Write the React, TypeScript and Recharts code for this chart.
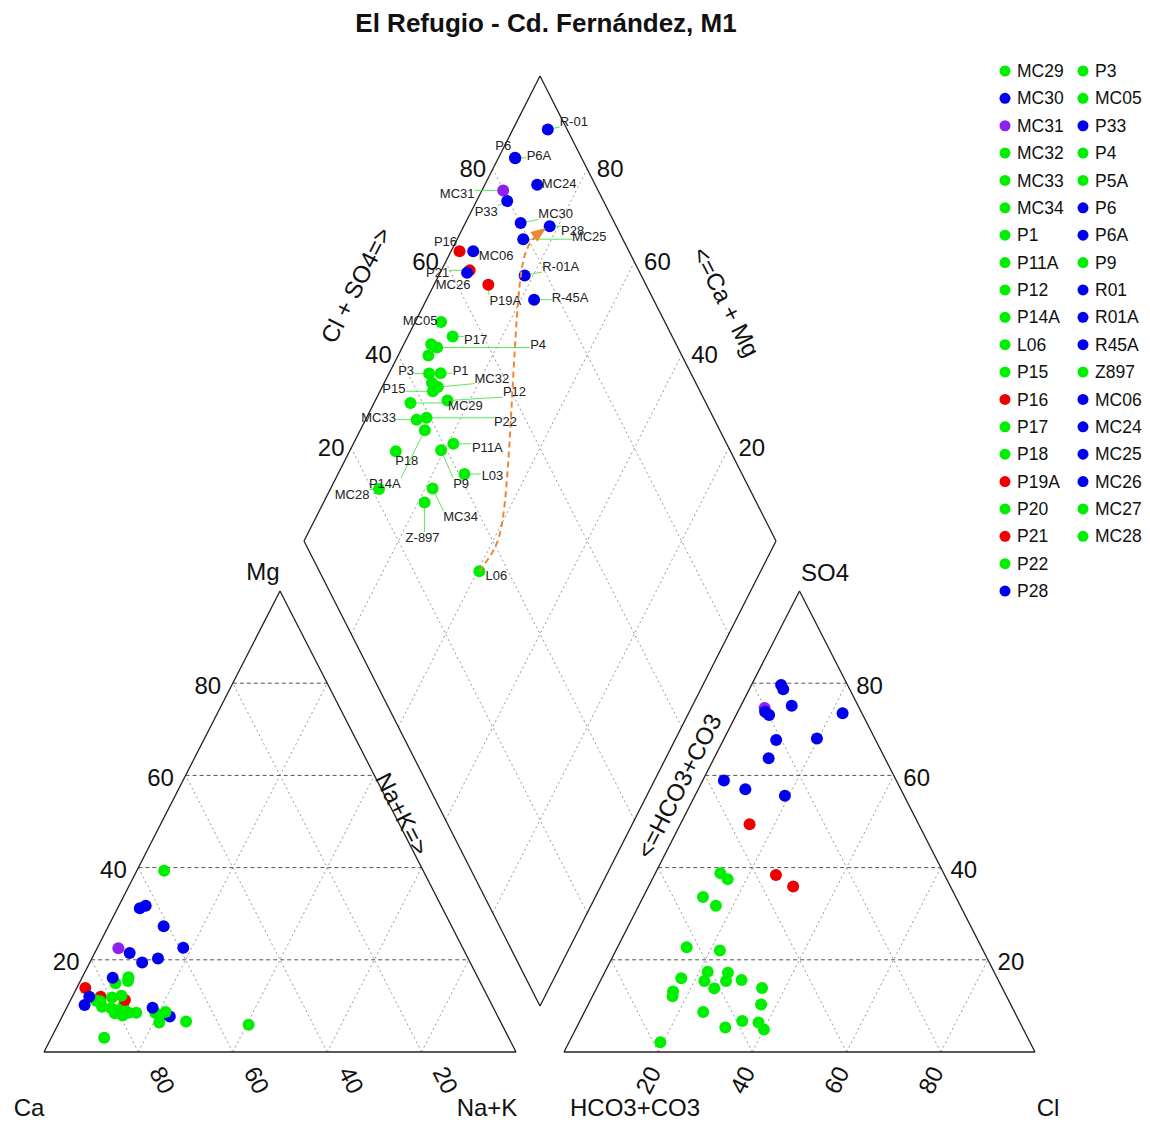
import React from 'react';
import {
  ScatterChart,
  Scatter,
  XAxis,
  YAxis,
  ReferenceLine,
  Customized,
} from 'recharts';

// samples in legend order (L03 appears only in the diamond)
const sampleIds = [
  'MC29', 'MC30', 'MC31', 'MC32', 'MC33', 'MC34', 'P1', 'P11A', 'P12', 'P14A',
  'L06', 'P15', 'P16', 'P17', 'P18', 'P19A', 'P20', 'P21', 'P22', 'P28',
  'P3', 'MC05', 'P33', 'P4', 'P5A', 'P6', 'P6A', 'P9', 'R01', 'R01A',
  'R45A', 'Z897', 'MC06', 'MC24', 'MC25', 'MC26', 'MC27', 'MC28', 'L03',
];
const legendNames = sampleIds.filter((id) => id !== 'L03');
const diamondTags = [
  'MC29', 'MC30', 'MC31', 'MC32', 'MC33', 'MC34', 'P1', 'P11A', 'P12', 'P14A',
  'L06', 'P15', 'P16', 'P17', 'P18', 'P19A', '', 'P21', 'P22', 'P28',
  'P3', 'MC05', 'P33', 'P4', '', 'P6', 'P6A', 'P9', 'R-01', 'R-01A',
  'R-45A', 'Z-897', 'MC06', 'MC24', 'MC25', 'MC26', '', 'MC28', 'L03',
];
const groups = [
  'g', 'b', 'p', 'g', 'g', 'g', 'g', 'g', 'g', 'g',
  'g', 'g', 'r', 'g', 'g', 'r', 'g', 'r', 'g', 'b',
  'g', 'g', 'b', 'g', 'g', 'b', 'b', 'g', 'b', 'b',
  'b', 'g', 'b', 'b', 'b', 'b', 'g', 'g', 'g',
];

// cations, % meq
const mgPct = [
  14.9, 27.3, 22.5, 10.0, 8.4, 8.2, 9.0, 6.4, 8.5, 8.5,
  5.9, 3.1, 13.9, 9.5, 16.2, 11.3, 39.3, 12.0, 7.9, 22.6,
  11.8, 11.1, 16.1, 9.8, 11.0, 12.0, 10.2, 8.5, 21.5, 9.6,
  7.7, 8.7, 31.2, 19.4, 20.3, 31.7, 15.4, 12.2, 6.6,
];
const nakPct = [
  7.7, 11.7, 4.5, 11.8, 10.8, 21.6, 10.9, 21.2, 15.3, 13.7,
  40.4, 11.2, 1.8, 9.5, 9.8, 11.5, 5.8, 6.0, 12.7, 18.2,
  8.5, 5.5, 6.5, 7.4, 6.4, 3.6, 3.5, 19.3, 7.4, 18.2,
  22.8, 21.4, 4.7, 11.1, 14.0, 5.7, 10.1, 10.3, 26.8,
];
// anions, % meq
const so4Pct = [
  22.7, 73.1, 74.6, 4.9, 5.3, 16.0, 10.3, 15.4, 15.6, 15.4,
  8.7, 17.2, 49.4, 37.5, 12.1, 35.9, 31.7, 38.4, 17.4, 75.1,
  6.4, 38.8, 73.8, 13.9, 33.6, 79.6, 78.7, 13.8, 73.5, 63.7,
  55.6, 13.1, 57.0, 68.0, 67.7, 58.9, 22.0, 2.1, 6.7,
];
const clPct = [
  14.7, 7.0, 5.3, 40.0, 31.6, 16.9, 36.7, 26.7, 29.9, 22.1,
  25.2, 26.2, 14.7, 16.0, 17.0, 30.7, 16.4, 25.8, 21.8, 10.8,
  38.1, 13.8, 5.8, 35.1, 12.7, 6.3, 7.2, 25.0, 22.4, 11.6,
  19.1, 16.6, 10.0, 19.7, 11.2, 4.5, 22.1, 19.4, 34.5,
];

// evolution path L06 -> P28 in the diamond (Cl+SO4, Ca+Mg)
const arrowSO4Cl = [33.9, 38.8, 42.8, 50.5, 59.2, 70.3, 76.4, 80.3, 84.9];
const arrowCaMg = [59.6, 58.7, 58.9, 64.1, 71.1, 80.0, 84.0, 84.5, 82.4];

const tickValues = [20, 40, 60, 80];

// ---- layout ----
const colors: Record<string, string> = {
  g: '#00EE00',
  b: '#0000EE',
  p: '#9020F0',
  r: '#EE0000',
};
const FONT = '"Liberation Sans", Arial, sans-serif';

type Pt = { x: number; y: number };
type Tri = { a: Pt; b: Pt; c: Pt };
const CAT: Tri = { a: { x: 44, y: 1052 }, b: { x: 516, y: 1052 }, c: { x: 280, y: 591 } };
const AN: Tri = { a: { x: 564, y: 1052 }, b: { x: 1035, y: 1052 }, c: { x: 799.5, y: 591 } };
const DB: Pt = { x: 540, y: 1006 };
const DR: Pt = { x: 776, y: 541 };
const DL: Pt = { x: 304, y: 541 };

const tern = (t: Tri, p1: number, p2: number): Pt => ({
  x: t.a.x + (p1 / 100) * (t.b.x - t.a.x) + (p2 / 100) * (t.c.x - t.a.x),
  y: t.a.y + (p1 / 100) * (t.b.y - t.a.y) + (p2 / 100) * (t.c.y - t.a.y),
});
const diam = (s: number, c: number): Pt => ({
  x: DB.x + (s / 100) * (DR.x - DB.x) + (c / 100) * (DL.x - DB.x),
  y: DB.y + (s / 100) * (DR.y - DB.y) + (c / 100) * (DL.y - DB.y),
});

// label offsets from the point (ggrepel-like placement)
const labelOffsets: Record<string, [number, number]> = {
  'R-01': [26, -8], P6: [-12, -13], P6A: [24, -2], MC24: [22, -1],
  MC31: [-46, 3], P33: [-21, 10], MC30: [35, -9], P28: [23, 4],
  MC25: [66, -3], P16: [-14, -10], MC06: [23, 4], P21: [-32, 2],
  MC26: [-14, 12], P19A: [17, 16], 'R-01A': [36, -9], 'R-45A': [36, -2],
  MC05: [-21, -2], P17: [23, 3], P4: [101, -3], P3: [-23, -3],
  P1: [20, -3], MC32: [54, -9], P15: [-39, -3], P12: [67, -9],
  MC29: [55, 3], MC33: [-38, -2], P22: [79, 4], P11A: [34, 4],
  P18: [11, 9], P9: [20, 33], L03: [28, 1], P14A: [-40, 53],
  MC28: [-27, 6], MC34: [28, 28], 'Z-897': [-2, 35], L06: [17, 4],
};

const textWidth = (s: string, size: number) =>
  s.split('').reduce((w, ch) => {
    if (ch === 'M') return w + 0.833;
    if (/[0-9]/.test(ch)) return w + 0.556;
    if (ch === '-') return w + 0.333;
    return w + 0.69;
  }, 0) * size;

const samples = sampleIds.map((id, i) => ({
  id,
  tag: diamondTags[i],
  color: colors[groups[i]],
  cat: tern(CAT, nakPct[i], mgPct[i]),
  an: tern(AN, clPct[i], so4Pct[i]),
  dia: diam(clPct[i] + so4Pct[i], 100 - nakPct[i]),
}));
const cationData = samples.map((s) => ({ ...s.cat, color: s.color }));
const anionData = samples.map((s) => ({ ...s.an, color: s.color }));
const diamondData = samples.map((s) => ({ ...s.dia, color: s.color, tag: s.tag }));
const labelData = diamondData.filter((d) => d.tag !== '');

const arrowData = arrowSO4Cl.map((v, i) => {
  const p = diam(v, arrowCaMg[i]);
  const prev = i > 0 ? diam(arrowSO4Cl[i - 1], arrowCaMg[i - 1]) : p;
  return {
    ...p,
    last: i === arrowSO4Cl.length - 1,
    angle: Math.atan2(p.y - prev.y, p.x - prev.x),
  };
});

type Seg = { p: Pt; q: Pt; kind: 'dash' | 'dot' | 'frame' };
const triSegs = (t: Tri): Seg[] => {
  const out: Seg[] = [
    { p: t.a, q: t.b, kind: 'frame' },
    { p: t.b, q: t.c, kind: 'frame' },
    { p: t.c, q: t.a, kind: 'frame' },
  ];
  tickValues.forEach((v) => {
    out.push({ p: tern(t, 0, v), q: tern(t, 100 - v, v), kind: 'dash' });
    out.push({ p: tern(t, v, 0), q: tern(t, v, 100 - v), kind: 'dot' });
    out.push({ p: tern(t, 100 - v, 0), q: tern(t, 0, 100 - v), kind: 'dot' });
  });
  return out;
};
const diaSegs = (): Seg[] => {
  const out: Seg[] = [
    { p: diam(0, 0), q: diam(100, 0), kind: 'frame' },
    { p: diam(100, 0), q: diam(100, 100), kind: 'frame' },
    { p: diam(100, 100), q: diam(0, 100), kind: 'frame' },
    { p: diam(0, 100), q: diam(0, 0), kind: 'frame' },
  ];
  tickValues.forEach((v) => {
    out.push({ p: diam(v, 0), q: diam(v, 100), kind: 'dot' });
    out.push({ p: diam(0, v), q: diam(100, v), kind: 'dot' });
  });
  return out;
};
const segments = [...triSegs(CAT), ...triSegs(AN), ...diaSegs()];
const segStyle = {
  frame: { stroke: '#222', strokeWidth: 1.3 },
  dash: { stroke: '#555', strokeWidth: 1, strokeDasharray: '4 3' },
  dot: { stroke: '#999', strokeWidth: 1, strokeDasharray: '2 3' },
};

const Dot = (props: any) => {
  const { cx, cy, payload } = props;
  return <circle cx={cx} cy={cy} r={6} fill={payload.color} />;
};

const labelBox = (cx: number, cy: number, tag: string) => {
  const off = labelOffsets[tag] || [18, 0];
  const lx = cx + off[0];
  const ly = cy + off[1];
  const w = textWidth(tag, 13);
  const h = 11;
  const nx = Math.max(lx - w / 2, Math.min(cx, lx + w / 2));
  const ny = Math.max(ly - h / 2, Math.min(cy, ly + h / 2));
  return { lx, ly, nx, ny, d: Math.hypot(nx - cx, ny - cy) };
};

const Leader = (props: any) => {
  const { cx, cy, payload } = props;
  const b = labelBox(cx, cy, payload.tag);
  if (b.d < 9) return <g />;
  return (
    <line x1={cx} y1={cy} x2={b.nx} y2={b.ny} stroke="#4BE34B" strokeWidth={0.9} />
  );
};

const LabelText = (props: any) => {
  const { cx, cy, payload } = props;
  const b = labelBox(cx, cy, payload.tag);
  return (
    <text x={b.lx} y={b.ly} dy="0.35em" textAnchor="middle" fontSize={13} fill="#222" fontFamily={FONT}>
      {payload.tag}
    </text>
  );
};

const ArrowHead = (props: any) => {
  const { cx, cy, payload } = props;
  if (!payload.last) return <g />;
  const a = payload.angle;
  const len = 15;
  const half = 6;
  const bx = cx - len * Math.cos(a);
  const by = cy - len * Math.sin(a);
  const px = -Math.sin(a) * half;
  const py = Math.cos(a) * half;
  return (
    <polygon
      points={`${cx},${cy} ${bx + px},${by + py} ${bx - px},${by - py}`}
      fill="#EF8535"
    />
  );
};

const T = (
  key: string,
  s: string,
  x: number,
  y: number,
  size: number,
  rot = 0,
  weight: string | number = 'normal',
) => (
  <text
    key={key}
    x={x}
    y={y}
    dy="0.35em"
    textAnchor="middle"
    fontSize={size}
    fontWeight={weight}
    fontFamily={FONT}
    fill="#111"
    transform={rot ? `rotate(${rot} ${x} ${y})` : undefined}
  >
    {s}
  </text>
);

const TextLayer = () => {
  const items: React.ReactNode[] = [];
  items.push(T('title', 'El Refugio - Cd. Fernández, M1', 546, 23, 26, 0, 'bold'));
  const corners: [string, number, number][] = [
    ['Ca', 29, 1108], ['Na+K', 487, 1108], ['HCO3+CO3', 635, 1108],
    ['Cl', 1048, 1108], ['Mg', 263, 572], ['SO4', 825, 573],
  ];
  corners.forEach(([s, x, y]) => items.push(T('c' + s, s, x, y, 24)));
  items.push(T('ax1', 'Cl + SO4=>', 356, 285, 24, -63));
  items.push(T('ax2', '<=Ca + Mg', 726, 302, 24, 63));
  items.push(T('ax3', 'Na+K=>', 402, 814, 24, 63));
  items.push(T('ax4', '<=HCO3+CO3', 679, 786, 24, -63));
  tickValues.forEach((v) => {
    const s = String(v);
    const mg = tern(CAT, 0, v);
    items.push(T('mg' + v, s, mg.x - 25, mg.y + 2, 24));
    const so = tern(AN, 100 - v, v);
    items.push(T('so' + v, s, so.x + 23, so.y + 2, 24));
    const ca = tern(CAT, 100 - v, 0);
    items.push(T('ca' + v, s, ca.x + 24, ca.y + 28, 24, 63));
    const cl = tern(AN, v, 0);
    items.push(T('cl' + v, s, cl.x - 10, cl.y + 28, 24, -63));
    const dl = diam(v, 100);
    items.push(T('dl' + v, s, dl.x - 20, dl.y, 24));
    const dr = diam(100, v);
    items.push(T('dr' + v, s, dr.x + 23, dr.y, 24));
  });
  legendNames.forEach((name, i) => {
    const col = i < 20 ? 0 : 1;
    const row = i < 20 ? i : i - 20;
    const y = 71 + row * 27.37;
    const x = col === 0 ? 1005 : 1083;
    const idx = sampleIds.indexOf(name);
    items.push(<circle key={'ld' + name} cx={x} cy={y} r={5.5} fill={colors[groups[idx]]} />);
    items.push(
      <text key={'lt' + name} x={x + 12} y={y} dy="0.35em" fontSize={17.5} fontFamily={FONT} fill="#111">
        {name}
      </text>,
    );
  });
  return <g>{items}</g>;
};

export default function App() {
  return (
    <div style={{ position: 'absolute', left: 0, top: 0, width: 1150, height: 1122, background: '#fff' }}>
      <ScatterChart width={1150} height={1122} margin={{ top: 0, right: 0, bottom: 0, left: 0 }}>
        <XAxis type="number" dataKey="x" domain={[0, 1150]} hide allowDataOverflow />
        <YAxis type="number" dataKey="y" domain={[0, 1122]} reversed hide allowDataOverflow />
        {segments
          .filter((s) => s.kind !== 'frame')
          .map((s, i) => (
            <ReferenceLine key={'g' + i} segment={[s.p, s.q]} ifOverflow="visible" {...segStyle[s.kind]} />
          ))}
        {segments
          .filter((s) => s.kind === 'frame')
          .map((s, i) => (
            <ReferenceLine key={'f' + i} segment={[s.p, s.q]} ifOverflow="visible" {...segStyle.frame} />
          ))}
        <Scatter data={labelData} shape={(p: any) => <Leader {...p} />} isAnimationActive={false} />
        <Scatter data={cationData} shape={(p: any) => <Dot {...p} />} isAnimationActive={false} />
        <Scatter data={anionData} shape={(p: any) => <Dot {...p} />} isAnimationActive={false} />
        <Scatter data={diamondData} shape={(p: any) => <Dot {...p} />} isAnimationActive={false} />
        <Scatter
          data={arrowData}
          line={{ stroke: '#EF8535', strokeWidth: 2, strokeDasharray: '6 4' }}
          lineJointType="basis"
          shape={(p: any) => <ArrowHead {...p} />}
          isAnimationActive={false}
        />
        <Scatter data={labelData} shape={(p: any) => <LabelText {...p} />} isAnimationActive={false} />
        <Customized component={TextLayer} />
      </ScatterChart>
    </div>
  );
}
